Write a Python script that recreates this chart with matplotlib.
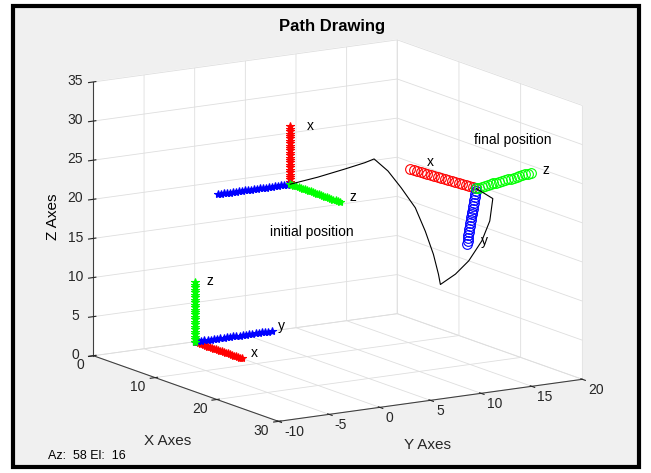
import numpy as np
import matplotlib.pyplot as plt
from matplotlib.patches import Rectangle

plt.rcParams['font.family'] = ['Liberation Sans', 'DejaVu Sans']
plt.rcParams['axes.unicode_minus'] = False

# ========== DATA ==========

# frame origins and axis end points (x, y, z)
world_o = [0, 0, 0]
world_x = [7.6, 0, 0]
world_y = [0, 7.6, 0]
world_z = [0, 0, 7.6]

init_o = [4, 7, 20]
init_x = [4, 7, 27.4]
init_y = [4, -0.15, 20]
init_z = [12, 7, 20]

final_o = [20, 15.6, 22.4]
final_x = [18, 10.3, 25.3]
final_y = [21, 14.1, 15.9]
final_z = [22, 19.8, 24.2]

# path of the origin
path_x = [4, 5, 6, 7, 8, 9, 10, 11, 12, 13, 14, 15, 16, 17, 18, 19, 20, 20]
path_y = [7, 9.1, 11.17, 12.55, 12.84, 13.6, 14.3, 15.08, 15.46, 15.65, 15.54, 15.12,
          16.0, 16.7, 17.38, 17.56, 17.25, 15.6]
path_z = [20, 20.8, 21.75, 22.6, 23.3, 21.9, 19.9, 17.5, 14.7, 12.0, 9.75, 8.8,
          10.25, 12.1, 14.8, 17.6, 20.8, 22.4]

# axis letter labels (position, text)
axis_labels = [
    ([8, 0.7, 0.7], "x"), ([1, 7.6, 0.9], "y"), ([0, 1.2, 7.5], "z"),
    ([4, 8.6, 27.1], "x"), ([12, 8, 20.4], "z"),
    ([18, 12, 25.8], "x"), ([20, 16.1, 15.6], "y"), ([25, 19.1, 25.5], "z"),
]
init_text_pos = [4, 5, 14.3]
final_text_pos = [20, 15.4, 28.6]

x_ticks = [0, 10, 20, 30]
y_ticks = [-10, -5, 0, 5, 10, 15, 20]
z_ticks = [0, 5, 10, 15, 20, 25, 30, 35]

# ========== PLOT ==========

fig = plt.figure(figsize=(6.51, 4.73), dpi=100, facecolor="white")
fig.patches.append(Rectangle((0.02, 0.012), 0.962, 0.975, transform=fig.transFigure,
                             facecolor="#f0f0f0", edgecolor="black", lw=3, zorder=-10))

ax = fig.add_axes([0.06, 0.04, 0.9, 0.92], projection="3d", proj_type="ortho")
ax.set_facecolor((0, 0, 0, 0))
ax.set_box_aspect((1.244, 1.276, 1), zoom=1.28)
ax.view_init(elev=12.8, azim=-32)


def draw_axis(o, e, color, marker, n, ms, mfc):
    xs = np.linspace(o[0], e[0], n)
    ys = np.linspace(o[1], e[1], n)
    zs = np.linspace(o[2], e[2], n)
    ax.plot(xs, ys, zs, linestyle="none", marker=marker, color=color,
            markersize=ms, markerfacecolor=mfc, markeredgewidth=0.8)


for end, c in [(world_x, "red"), (world_y, "blue"), (world_z, "lime")]:
    draw_axis(world_o, end, c, "*", 25, 6, c)
for end, c in [(init_x, "red"), (init_y, "blue"), (init_z, "lime")]:
    draw_axis(init_o, end, c, "*", 25, 6, c)
for end, c in [(final_x, "red"), (final_y, "blue"), (final_z, "lime")]:
    draw_axis(final_o, end, c, "o", 20, 7, "none")

ax.plot(path_x, path_y, path_z, color="black", lw=0.8)

for pos, s in axis_labels:
    ax.text(pos[0], pos[1], pos[2], s, fontsize=10, ha="left", va="center")
ax.text(*init_text_pos, "initial position", fontsize=10, ha="left", va="center")
ax.text(*final_text_pos, "final position", fontsize=10, ha="left", va="center")

ax.set_xlim(0, 30)
ax.set_ylim(-10, 20)
ax.set_zlim(0, 35)
ax.set_xticks(x_ticks)
ax.set_yticks(y_ticks)
ax.set_zticks(z_ticks)

for axis in (ax.xaxis, ax.yaxis, ax.zaxis):
    axis.set_pane_color((1, 1, 1, 1))
    axis._axinfo["grid"]["color"] = "#dedede"
    axis._axinfo["grid"]["linewidth"] = 0.6
    axis.line.set_color("#404040")
    axis.line.set_linewidth(0.8)
    axis.set_rotate_label(False)
ax.zaxis.set_ticks_position("lower")
ax.zaxis.set_label_position("lower")
ax.tick_params(labelsize=10, colors="#262626")
ax.tick_params(axis="x", pad=-3)
ax.tick_params(axis="y", pad=-3)
ax.tick_params(axis="z", pad=-2)
plt.setp(ax.get_xticklabels(), ha="right", va="center")
plt.setp(ax.get_yticklabels(), ha="left", va="center")
plt.setp(ax.get_zticklabels(), va="center")

ax.set_zlabel("Z Axes", fontsize=11, rotation=90, labelpad=-7.5)
fig.text(168 / 651, 1 - 441 / 473, "X Axes", fontsize=11, color="#262626",
         ha="center", va="center")
fig.text(428 / 651, 1 - 445 / 473, "Y Axes", fontsize=11, color="#262626",
         ha="center", va="center")

fig.text(0.51, 0.943, "Path Drawing", fontsize=12, fontweight="bold",
         ha="center", va="center")
fig.text(0.074, 0.03, "Az:  58 El:  16", fontsize=9)

plt.savefig("out.png", dpi=100)
